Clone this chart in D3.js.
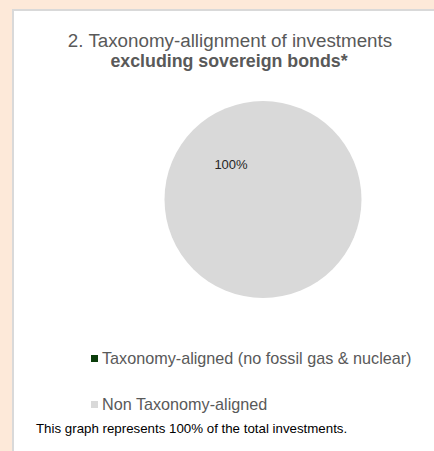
<!DOCTYPE html>
<html>
<head>
<meta charset="utf-8">
<title></title>
<script src="https://cdn.jsdelivr.net/npm/d3@7"></script>
<style>
  html, body { margin: 0; overflow: hidden; background: #fde9d9; }
  svg { display: block; font-family: "Liberation Sans", Arial, sans-serif; }
</style>
</head>
<body>
<script>
// data
var categories = ["Taxonomy-aligned (no fossil gas & nuclear)", "Non Taxonomy-aligned"];
var values = [0, 100];
var colors = ["#0b3d0b", "#d9d9d9"];
var titleLines = ["2. Taxonomy-allignment of investments", "excluding sovereign bonds*"];
var footnote = "This graph represents 100% of the total investments.";

var W = 434, H = 451;
var svg = d3.select("body").append("svg").attr("width", W).attr("height", H);

// white panel (runs off the right and bottom edges)
svg.append("rect")
   .attr("x", 13).attr("y", 10)
   .attr("width", 440).attr("height", 460)
   .attr("fill", "#fff")
   .attr("stroke", "#d9d9d9").attr("stroke-width", 2);

// title
svg.append("text").attr("x", 230).attr("y", 47)
   .attr("text-anchor", "middle").attr("fill", "#595959")
   .style("font-size", "18.8px").text(titleLines[0]);
svg.append("text").attr("x", 229).attr("y", 67)
   .attr("text-anchor", "middle").attr("fill", "#595959")
   .style("font-size", "17.8px").style("font-weight", "bold").text(titleLines[1]);

// pie
var cx = 263, cy = 199.5, r = 98.5;
var pie = d3.pie().sort(null).value(function(d){ return d; });
var arc = d3.arc().innerRadius(0).outerRadius(r);
var g = svg.append("g").attr("transform", "translate(" + cx + "," + cy + ")");
var slices = pie(values);
g.selectAll("path").data(slices).enter().append("path")
 .attr("d", arc)
 .attr("fill", function(d, i){ return colors[i]; });

// data label (only the non-zero slice)
var total = d3.sum(values);
var fmt = function(v){ return Math.round(v / total * 100) + "%"; };
var labelAngle = -0.73, labelR = 48;
g.selectAll("text.lbl").data(slices.filter(function(d){ return d.value > 0; }))
 .enter().append("text").attr("class", "lbl")
 .attr("x", labelR * Math.sin(labelAngle))
 .attr("y", -labelR * Math.cos(labelAngle) + 5)
 .attr("text-anchor", "middle")
 .attr("fill", "#262626")
 .style("font-size", "13px")
 .text(function(d){ return fmt(d.value); });

// legend
var legY = d3.scalePoint().domain(categories).range([359, 405]);
var leg = svg.selectAll("g.leg").data(categories).enter().append("g")
   .attr("class", "leg")
   .attr("transform", function(d){ return "translate(91," + legY(d) + ")"; });
leg.append("rect").attr("x", 0).attr("y", -4).attr("width", 7).attr("height", 7)
   .attr("fill", function(d, i){ return colors[i]; });
leg.append("text").attr("x", 11).attr("y", 5)
   .attr("fill", "#595959").style("font-size", "16.2px")
   .text(function(d){ return d; });

// footnote
svg.append("text").attr("x", 36).attr("y", 433)
   .attr("fill", "#000").style("font-size", "13.3px").text(footnote);
</script>
</body>
</html>
